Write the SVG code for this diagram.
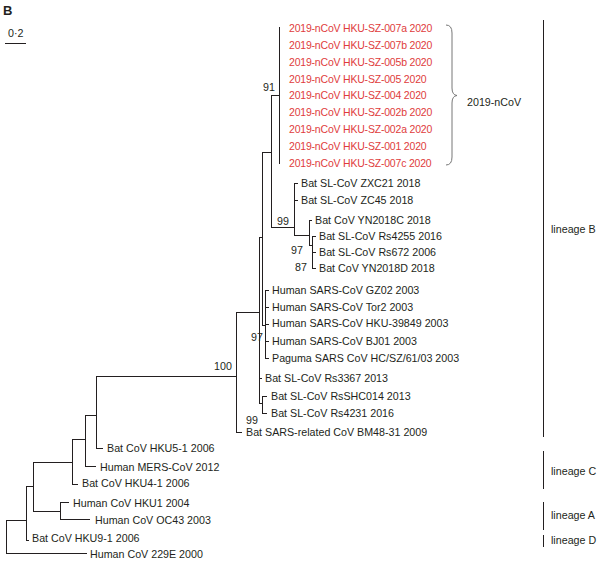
<svg xmlns="http://www.w3.org/2000/svg" width="597" height="565" viewBox="0 0 597 565">
<style>
text{font-family:"Liberation Sans",Arial,sans-serif;font-size:10.7px;fill:#231f20}
.r{fill:#e03c3c;font-size:10.5px;letter-spacing:-0.2px}
.ln{fill:none;stroke:#231f20;stroke-width:1}
.br{fill:none;stroke:#777;stroke-width:1}
.h{font-weight:bold;font-size:13px}
</style>
<rect width="597" height="565" fill="#fff"/>
<text class="h" x="3" y="15">B</text>
<g id="scale"><text x="8" y="37">0·2</text><path class="ln" d="M5,43.5H26"/></g>
<g id="connectors" class="ln">
<path d="M6.5,520V553.5M6,553.5H87M6,520.5H26M26.5,486V540M26,540.5H29M26,486.5H33M33.5,462V511M33,511.5H60M60.5,502V519M60,502.5H69M60,519.5H90M33,462.5H72M72.5,439V484M72,484.5H78M72,439.5H85M85.5,415V466M85,466.5H96M85,415.5H96M96.5,376V448M96,448.5H103M96,376.5H236"/>
<path d="M236.5,312V432M236,432.5H242M236,312.5H259M259.5,237V403M259,378.5H262M259,403.5H262M262.5,396V413M262,396.5H267M262,413.5H267M259,237.5H262M262.5,152V325M262,325.5H265M265.5,290V358M265,290.5H269M265,307.5H269M265,324.5H269M265,341.5H269M265,358.5H269M262,152.5H271M271.5,95V227M271,95.5H279M279.5,27V164"/>
<path d="M271,227.5H294M294.5,183V235M294,183.5H298M294,200.5H298M294,235.5H309M309.5,220V245M309,220.5H312M309,245.5H312M312.5,236V268M312,236.5H316M312,252.5H316M312,268.5H316"/>
</g>
<g id="support">
<text x="263" y="91">91</text>
<text x="277" y="225">99</text>
<text x="291" y="254">97</text>
<text x="295" y="271">87</text>
<text x="251" y="341">97</text>
<text x="214" y="370">100</text>
<text x="246" y="424">99</text>
</g>
<g id="ncov-leaves">
<text class="r" x="289" y="32.1">2019-nCoV HKU-SZ-007a 2020</text>
<text class="r" x="289" y="48.9">2019-nCoV HKU-SZ-007b 2020</text>
<text class="r" x="289" y="65.7">2019-nCoV HKU-SZ-005b 2020</text>
<text class="r" x="289" y="82.5">2019-nCoV HKU-SZ-005 2020</text>
<text class="r" x="289" y="99.3">2019-nCoV HKU-SZ-004 2020</text>
<text class="r" x="289" y="116.1">2019-nCoV HKU-SZ-002b 2020</text>
<text class="r" x="289" y="132.9">2019-nCoV HKU-SZ-002a 2020</text>
<text class="r" x="289" y="149.7">2019-nCoV HKU-SZ-001 2020</text>
<text class="r" x="289" y="166.5">2019-nCoV HKU-SZ-007c 2020</text>
</g>
<g id="leaf-zxc21"><text x="301" y="187.1">Bat SL-CoV ZXC21 2018</text></g>
<g id="leaf-zc45"><text x="301" y="203.8">Bat SL-CoV ZC45 2018</text></g>
<g id="leaf-yn2018c"><text x="315" y="223.8">Bat CoV YN2018C 2018</text></g>
<g id="leaf-rs4255"><text x="319" y="239.5">Bat SL-CoV Rs4255 2016</text></g>
<g id="leaf-rs672"><text x="319" y="255.5">Bat SL-CoV Rs672 2006</text></g>
<g id="leaf-yn2018d"><text x="319" y="272.1">Bat CoV YN2018D 2018</text></g>
<g id="leaf-gz02"><text x="272" y="293.8">Human SARS-CoV GZ02 2003</text></g>
<g id="leaf-tor2"><text x="272" y="310.5">Human SARS-CoV Tor2 2003</text></g>
<g id="leaf-hku39849"><text x="272" y="327.3">Human SARS-CoV HKU-39849 2003</text></g>
<g id="leaf-bj01"><text x="272" y="344.5">Human SARS-CoV BJ01 2003</text></g>
<g id="leaf-paguma"><text x="272" y="361.5">Paguma SARS CoV HC/SZ/61/03 2003</text></g>
<g id="leaf-rs3367"><text x="265" y="381.5">Bat SL-CoV Rs3367 2013</text></g>
<g id="leaf-rsshc014"><text x="271" y="399.8">Bat SL-CoV RsSHC014 2013</text></g>
<g id="leaf-rs4231"><text x="271" y="416.5">Bat SL-CoV Rs4231 2016</text></g>
<g id="leaf-bm48"><text x="246" y="435.8">Bat SARS-related CoV BM48-31 2009</text></g>
<g id="leaf-hku5"><text x="107" y="451.8">Bat CoV HKU5-1 2006</text></g>
<g id="leaf-mers"><text x="100" y="470.8">Human MERS-CoV 2012</text></g>
<g id="leaf-hku4"><text x="82" y="487.3">Bat CoV HKU4-1 2006</text></g>
<g id="leaf-hku1"><text x="73" y="506.8">Human CoV HKU1 2004</text></g>
<g id="leaf-oc43"><text x="95" y="524.3">Human CoV OC43 2003</text></g>
<g id="leaf-hku9"><text x="32" y="541.8">Bat CoV HKU9-1 2006</text></g>
<g id="leaf-229e"><text x="90" y="558.3">Human CoV 229E 2000</text></g>
<g id="brace-ncov">
<path class="br" d="M446,25Q452,25 452,33L452,88Q452,95 457,95.5Q452,96 452,103L452,157Q452,165 446,165"/>
<text x="467" y="105.5" font-size="11px">2019-nCoV</text>
</g>
<g id="lineage-b"><path class="ln" d="M543.5,20V437"/><text x="551" y="233">lineage B</text></g>
<g id="lineage-c"><path class="ln" d="M543.5,451V489"/><text x="551" y="475">lineage C</text></g>
<g id="lineage-a"><path class="ln" d="M543.5,502V530"/><text x="551" y="519">lineage A</text></g>
<g id="lineage-d"><path class="ln" d="M543.5,535V547"/><text x="551" y="544">lineage D</text></g>
</svg>
